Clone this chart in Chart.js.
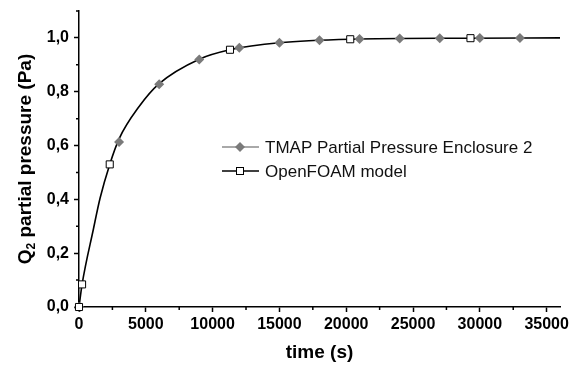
<!DOCTYPE html>
<html>
<head>
<meta charset="utf-8">
<script src="https://cdn.jsdelivr.net/npm/chart.js@4/dist/chart.umd.min.js"></script>
<style>
	body { margin: 0; background: #fff; }
	canvas { display: block; }
</style>
</head>
<body>
<canvas id="chart" width="570" height="365"></canvas>
<script>
// TMAP points (every 3000 s)
const tmapTime = [0, 3000, 6000, 9000, 12000, 15000, 18000, 21000, 24000, 27000, 30000, 33000];
const tmapPressure = [0, 0.613, 0.828, 0.920, 0.963, 0.982, 0.991, 0.996, 0.998, 0.999, 1.0, 1.0];

// OpenFOAM curve
const foamTime = [0, 230, 1080, 1580, 2300, 3000, 4500, 6000, 9000, 11300, 15000, 20300, 29300, 36000];
const foamPressure = [0, 0.084, 0.29, 0.405, 0.53, 0.625, 0.745, 0.83, 0.921, 0.956, 0.982, 0.995, 0.999, 1.0];

// OpenFOAM square markers
const foamMarkTime = [0, 230, 2300, 11300, 20300, 29300];
const foamMarkPressure = [0, 0.084, 0.53, 0.956, 0.995, 0.999];

// axis ticks
const xTicks = [0, 5000, 10000, 15000, 20000, 25000, 30000, 35000];
const xMinor = [2500, 7500, 12500, 17500, 22500, 27500, 32500];
const yTicks = [0, 0.2, 0.4, 0.6, 0.8, 1.0];
const yMinor = [0.1, 0.3, 0.5, 0.7, 0.9, 1.1];

const legendItems = ['TMAP Partial Pressure Enclosure 2', 'OpenFOAM model'];

function pts(xs, ys) {
	return xs.map((x, i) => ({ x: x, y: ys[i] }));
}

const tickFont = { family: 'Liberation Sans, Arial, sans-serif', size: 16, weight: 'bold' };

function drawDiamond(ctx, x, y) {
	ctx.beginPath();
	ctx.moveTo(x, y - 5);
	ctx.lineTo(x + 5, y);
	ctx.lineTo(x, y + 5);
	ctx.lineTo(x - 5, y);
	ctx.closePath();
	ctx.fillStyle = '#7a7a7a';
	ctx.fill();
}

function drawSquare(ctx, x, y) {
	ctx.fillStyle = '#fff';
	ctx.strokeStyle = '#000';
	ctx.lineWidth = 1;
	ctx.fillRect(x - 3.5, y - 3.5, 7, 7);
	ctx.strokeRect(x - 3.5, y - 3.5, 7, 7);
}

const extras = {
	id: 'extras',
	afterDraw(chart) {
		const ctx = chart.ctx;
		const xs = chart.scales.x, ys = chart.scales.y;
		ctx.save();
		// minor ticks
		ctx.strokeStyle = '#000';
		ctx.lineWidth = 1.5;
		ctx.beginPath();
		xMinor.forEach(v => {
			const px = xs.getPixelForValue(v);
			ctx.moveTo(px, ys.bottom);
			ctx.lineTo(px, ys.bottom + 3);
		});
		yMinor.forEach(v => {
			const py = ys.getPixelForValue(v);
			ctx.moveTo(xs.left, py);
			ctx.lineTo(xs.left - 3, py);
		});
		ctx.stroke();

		// axis titles
		ctx.fillStyle = '#000';
		ctx.font = 'bold 19px Liberation Sans, Arial, sans-serif';
		ctx.textAlign = 'center';
		ctx.textBaseline = 'alphabetic';
		ctx.fillText('time (s)', (xs.left + xs.right) / 2, 358);

		ctx.save();
		ctx.translate(0, (ys.top + ys.bottom) / 2);
		ctx.rotate(-Math.PI / 2);
		const big = 'bold 19px Liberation Sans, Arial, sans-serif';
		const small = 'bold 12px Liberation Sans, Arial, sans-serif';
		ctx.font = big;
		const wQ = ctx.measureText('Q').width;
		const rest = ' partial pressure (Pa)';
		const wRest = ctx.measureText(rest).width;
		ctx.font = small;
		const w2 = ctx.measureText('2').width;
		let tx = -(wQ + w2 + wRest) / 2;
		ctx.textAlign = 'left';
		ctx.font = big;
		ctx.fillText('Q', tx, 31);
		ctx.font = small;
		ctx.fillText('2', tx + wQ, 35);
		ctx.font = big;
		ctx.fillText(rest, tx + wQ + w2, 31);
		ctx.restore();

		// legend
		const rows = [147, 171];
		ctx.font = '17px Liberation Sans, Arial, sans-serif';
		ctx.textAlign = 'left';
		ctx.textBaseline = 'middle';
		rows.forEach((y, i) => {
			ctx.beginPath();
			ctx.strokeStyle = i === 0 ? '#8c8c8c' : '#000';
			ctx.lineWidth = 1.5;
			ctx.moveTo(222, y);
			ctx.lineTo(259, y);
			ctx.stroke();
			if (i === 0) drawDiamond(ctx, 240, y);
			else drawSquare(ctx, 240, y);
			ctx.fillStyle = '#111';
			ctx.fillText(legendItems[i], 265, y + 1);
		});
		ctx.restore();
	}
};

new Chart(document.getElementById('chart'), {
	type: 'line',
	data: {
		datasets: [
			{
				data: pts(foamTime, foamPressure),
				borderColor: '#000',
				borderWidth: 1.6,
				pointRadius: 0,
				cubicInterpolationMode: 'monotone',
				order: 3
			},
			{
				data: pts(tmapTime, tmapPressure),
				showLine: false,
				pointStyle: 'rectRot',
				pointRadius: 5,
				pointBackgroundColor: '#7a7a7a',
				pointBorderColor: '#7a7a7a',
				pointBorderWidth: 0,
				clip: false,
				order: 2
			},
			{
				data: pts(foamMarkTime, foamMarkPressure),
				showLine: false,
				pointStyle: 'rect',
				pointRadius: 5,
				pointBackgroundColor: '#fff',
				pointBorderColor: '#000',
				pointBorderWidth: 1,
				clip: false,
				order: 1
			}
		]
	},
	options: {
		responsive: false,
		animation: false,
		layout: { padding: { top: 11, right: 10, left: 0, bottom: 0 } },
		plugins: { legend: { display: false }, tooltip: { enabled: false } },
		scales: {
			x: {
				type: 'linear',
				min: 0,
				max: 36000,
				afterFit(s) { s.height = 58; s.paddingLeft = 0; s.paddingRight = 0; },
				afterBuildTicks(s) { s.ticks = xTicks.map(v => ({ value: v })); },
				ticks: { font: tickFont, color: '#000', padding: 3, maxRotation: 0, autoSkip: false, callback: v => String(v) },
				grid: { drawOnChartArea: false, tickLength: 5, tickColor: '#000', tickWidth: 1.5 },
				border: { color: '#000', width: 1.5 }
			},
			y: {
				type: 'linear',
				min: 0,
				max: 1.1,
				afterFit(s) { s.width = 79; s.paddingTop = 0; s.paddingBottom = 0; },
				afterBuildTicks(s) { s.ticks = yTicks.map(v => ({ value: v })); },
				ticks: { font: tickFont, color: '#000', padding: 5, callback: v => v.toFixed(1).replace('.', ',') },
				grid: { drawOnChartArea: false, tickLength: 5, tickColor: '#000', tickWidth: 1.5 },
				border: { color: '#000', width: 1.5 }
			}
		}
	},
	plugins: [extras]
});
</script>
</body>
</html>
